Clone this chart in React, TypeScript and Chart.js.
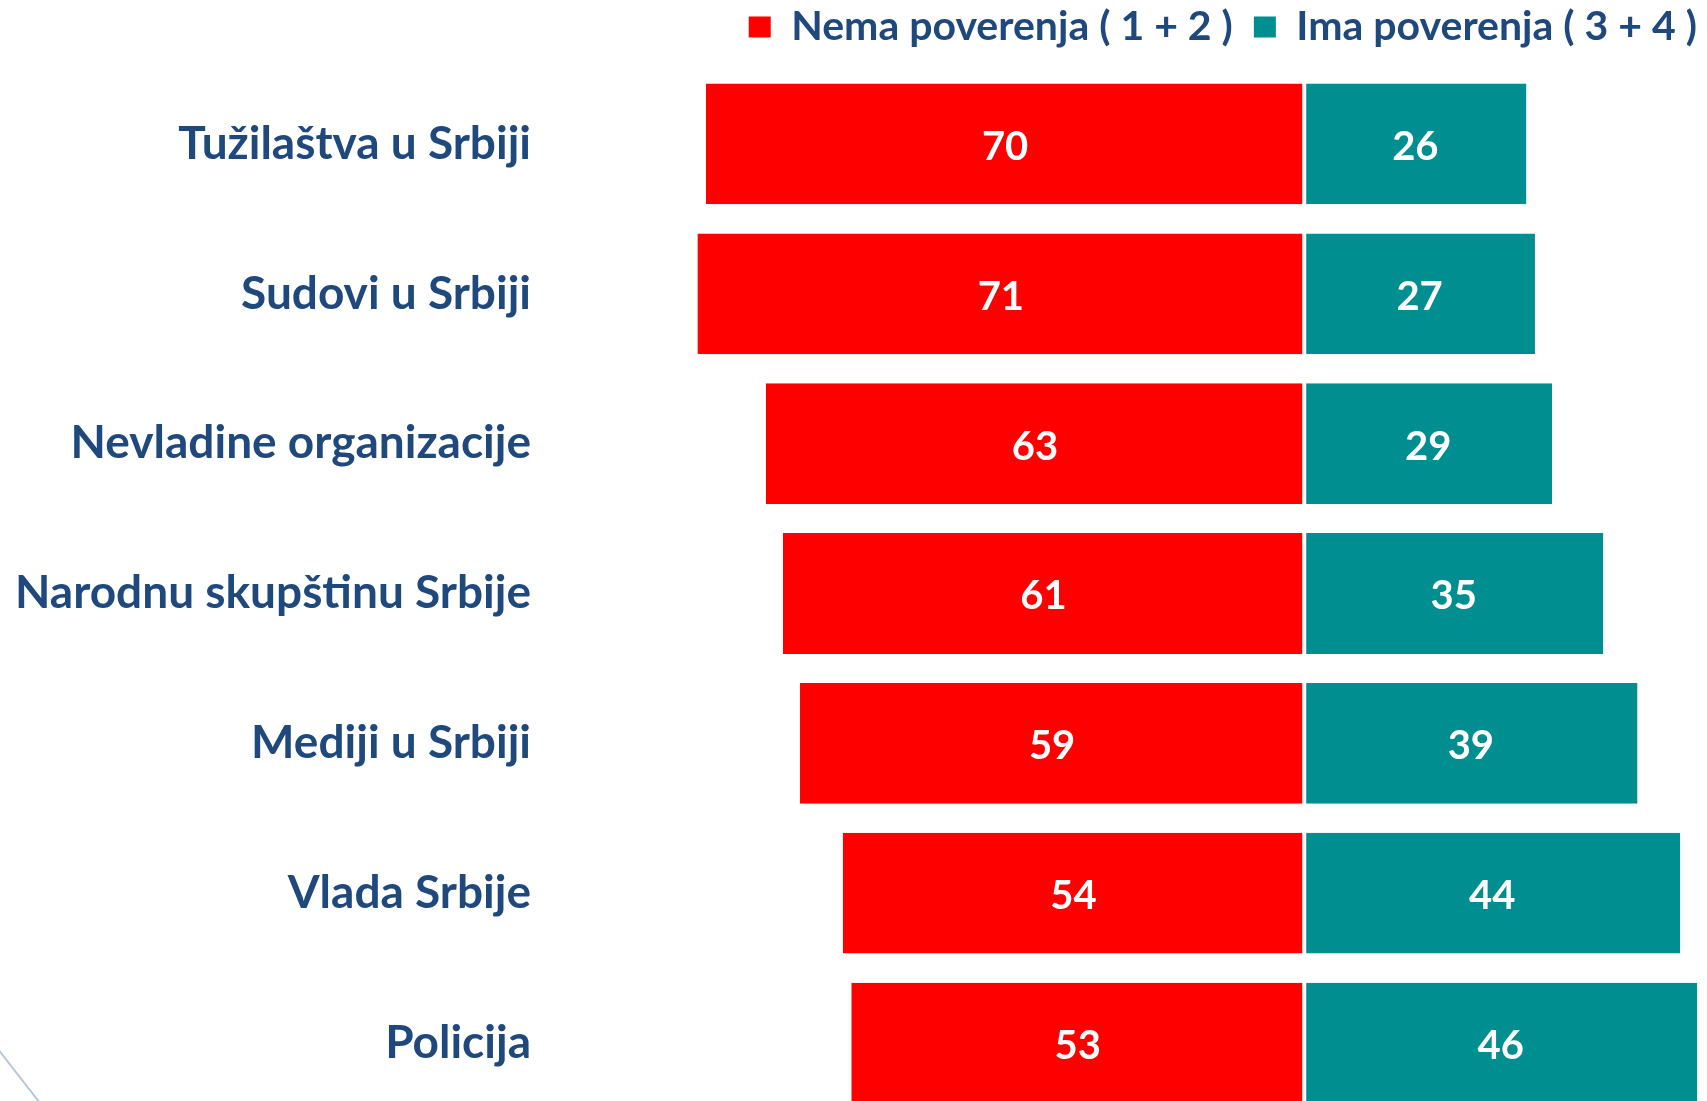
import React, { useEffect, useRef } from "react";
import { Chart, registerables } from "chart.js";

Chart.register(...registerables);

// ---- data ----
const categories = [
  "Tužilaštva u Srbiji",
  "Sudovi u Srbiji",
  "Nevladine organizacije",
  "Narodnu skupštinu Srbije",
  "Mediji u Srbiji",
  "Vlada Srbije",
  "Policija",
];
const nemaPoverenja = [70, 71, 63, 61, 59, 54, 53];
const imaPoverenja = [26, 27, 29, 35, 39, 44, 46];
const seriesLabels = ["Nema poverenja ( 1 + 2 )", "Ima poverenja ( 3 + 4 )"];

// ---- style ----
const RED = "#FF0000";
const TEAL = "#008E91";
const NAVY = "#1F497D";
const FONT = "Lato";
const W = 1707;
const H = 1118;

const valueLabels = {
  id: "valueLabels",
  afterDatasetsDraw(chart: any) {
    const ctx = chart.ctx;
    ctx.save();
    ctx.font = `bold 40px ${FONT}`;
    ctx.fillStyle = "#FFFFFF";
    ctx.textAlign = "center";
    ctx.textBaseline = "middle";
    chart.data.datasets.forEach((ds: any, di: number) => {
      const meta = chart.getDatasetMeta(di);
      meta.data.forEach((el: any, i: number) => {
        const p = el.getProps(["x", "base", "y"], true);
        ctx.fillText(String(Math.abs(ds.data[i])), (p.x + p.base) / 2, p.y + 3);
      });
    });
    ctx.restore();
  },
};

export default function App() {
  const ref = useRef<HTMLCanvasElement | null>(null);

  useEffect(() => {
    if (!ref.current) return;
    const chart = new Chart(ref.current, {
      type: "bar",
      data: {
        labels: categories,
        datasets: [
          {
            label: seriesLabels[0],
            data: nemaPoverenja.map((v) => -v),
            backgroundColor: RED,
            borderColor: "#FFFFFF",
            borderWidth: { top: 0, bottom: 0, left: 0, right: 2 },
            borderSkipped: false,
          },
          {
            label: seriesLabels[1],
            data: imaPoverenja,
            backgroundColor: TEAL,
            borderColor: "#FFFFFF",
            borderWidth: { top: 0, bottom: 0, left: 2, right: 0 },
            borderSkipped: false,
          },
        ],
      },
      options: {
        indexAxis: "y",
        responsive: false,
        animation: false,
        devicePixelRatio: 1,
        layout: { padding: { top: -14.5, left: 0, right: -11, bottom: 0 } },
        datasets: {
          bar: { categoryPercentage: 1, barPercentage: 0.806 },
        },
        scales: {
          x: {
            stacked: true,
            position: "top",
            min: -88.84,
            max: 47.13,
            grid: { display: false },
            border: { display: false },
            ticks: { display: false },
            afterFit: (s: any) => {
              s.height = 11.5;
            },
          },
          y: {
            stacked: true,
            grid: { display: false, drawTicks: false },
            border: { display: false },
            ticks: {
              color: NAVY,
              font: { family: FONT, size: 46, weight: "bold" },
              padding: 14,
            },
            afterFit: (s: any) => {
              s.width = 545;
              s.paddingTop = 0;
              s.paddingBottom = 0;
            },
          },
        },
        plugins: {
          legend: {
            position: "top",
            align: "end",
            labels: {
              color: NAVY,
              font: { family: FONT, size: 41, weight: "bold" },
              boxWidth: 22,
              boxHeight: 21,
              padding: 21,
              generateLabels: (c: any) =>
                Chart.defaults.plugins.legend.labels
                  .generateLabels(c)
                  .map((l: any) => ({ ...l, lineWidth: 0, strokeStyle: "rgba(0,0,0,0)" })),
            },
          },
          tooltip: { enabled: false },
        },
      },
      plugins: [valueLabels],
    } as any);
    return () => chart.destroy();
  }, []);

  return (
    <div
      style={{
        position: "fixed",
        left: 0,
        top: 0,
        width: W,
        height: 1101,
        overflow: "hidden",
        background: "#FFFFFF",
      }}
    >
      <canvas ref={ref} width={W} height={H} style={{ width: W, height: H, display: "block" }} />
      <svg width={60} height={60} style={{ position: "absolute", left: 0, top: 1041 }}>
        <path d="M -2 8 Q 18 34 40 62" stroke="#B8C6DB" strokeWidth={2} fill="none" />
      </svg>
    </div>
  );
}
